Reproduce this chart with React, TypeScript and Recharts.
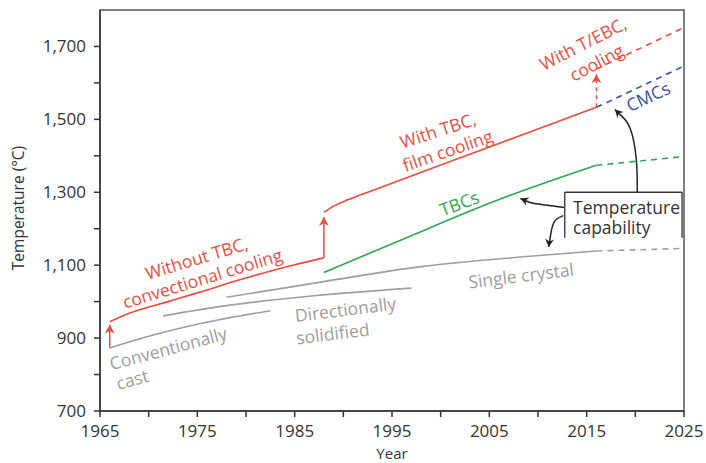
import React from 'react';
import { LineChart, Line, XAxis, YAxis, ReferenceArea, ReferenceLine, ReferenceDot } from 'recharts';

// axis ticks
const xTicks = [1965, 1970, 1975, 1980, 1985, 1990, 1995, 2000, 2005, 2010, 2015, 2020, 2025];
const yTicks = [700, 800, 900, 1000, 1100, 1200, 1300, 1400, 1500, 1600, 1700];

// blade temperature, without TBC (convectional cooling)
const convYears = [1966, 1968, 1972, 1975, 1979, 1982, 1985, 1988];
const convTemps = [945, 968, 1000, 1024, 1057, 1080, 1101, 1120];

// with TBC, film cooling
const filmYears = [1988, 1989, 1990.5, 1993, 2000, 2016];
const filmTemps = [1245, 1262, 1280, 1305, 1375, 1533];

// with T/EBC, cooling (projection)
const tebcYears = [2016, 2025];
const tebcTemps = [1638, 1752];

// CMCs (projection)
const cmcYears = [2016, 2025];
const cmcTemps = [1533, 1646];

// TBCs
const tbcYears = [1988, 1996, 2006, 2016];
const tbcTemps = [1080, 1170, 1280, 1374];
const tbcProjYears = [2016, 2025];
const tbcProjTemps = [1374, 1398];

// alloys
const singleYears = [1978, 1988, 1998, 2008.5, 2016];
const singleTemps = [1012, 1055, 1096, 1123, 1139];
const singleProjYears = [2016, 2025];
const singleProjTemps = [1139, 1146];

const dsYears = [1971.5, 1978, 1987, 1997];
const dsTemps = [961, 989, 1016, 1037];

const castYears = [1966, 1970, 1975, 1982.5];
const castTemps = [873, 905, 938, 975];

// step-up arrows
const step1Years = [1966, 1966];
const step1Temps = [873, 937];
const step2Years = [1988, 1988];
const step2Temps = [1120, 1232];
const step3Years = [2016, 2016];
const step3Temps = [1533, 1624];

// "Temperature capability" pointers
const ptrTbcYears = [2012.7, 2010.8, 2009.3, 2008.2];
const ptrTbcTemps = [1258, 1265, 1271, 1283];
const ptrSxYears = [2012.6, 2011.7, 2011.3, 2011.1];
const ptrSxTemps = [1236, 1220, 1184, 1150];
const ptrCmcYears = [2020.2, 2020.1, 2019.5, 2018.6, 2017.9];
const ptrCmcTemps = [1300, 1390, 1473, 1509, 1527];

const FONT = '"Open Sans", sans-serif';
const RED = '#EE4B3E';
const GREEN = '#2EA750';
const BLUE = '#3452A4';
const GRAY = '#9E9E9E';
const GRAY_TEXT = '#9C9C9C';
const INK = '#333333';

const toRows = (years: number[], temps: number[]) => years.map((year, i) => ({ year, temp: temps[i] }));

const arrowHead = (color: string, angle: number, size: number, lastIndex: number) => (props: any) => {
  const { cx, cy, index } = props;
  if (index !== lastIndex || cx == null) return <g key={`n${index}`} />;
  const s = size;
  return (
    <path
      key={`a${index}`}
      d={`M0,0 L${-s},${-s * 0.55} L${-s * 0.7},0 L${-s},${s * 0.55} Z`}
      transform={`translate(${cx},${cy}) rotate(${angle})`}
      fill={color}
    />
  );
};

type Note = { x: number; y: number; text: string; angle: number; color: string; anchor?: string };

const notes: Note[] = [
  { x: 1974.9, y: 1120, text: 'Without TBC,', angle: -17, color: RED },
  { x: 1975.5, y: 1065, text: 'convectional cooling', angle: -17, color: RED },
  { x: 1999.7, y: 1471, text: 'With TBC,', angle: -18, color: RED },
  { x: 2000.7, y: 1416, text: 'film cooling', angle: -19, color: RED },
  { x: 2014.6, y: 1709, text: 'With T/EBC,', angle: -27, color: RED },
  { x: 2016, y: 1657, text: 'cooling', angle: -28, color: RED },
  { x: 2021.3, y: 1564, text: 'CMCs', angle: -25, color: BLUE },
  { x: 2001.9, y: 1271, text: 'TBCs', angle: -21, color: GREEN },
  { x: 2013.6, y: 1260, text: 'Temperature', angle: 0, color: INK, anchor: 'start' },
  { x: 2013.6, y: 1205, text: 'capability', angle: 0, color: INK, anchor: 'start' },
  { x: 2008.25, y: 1073, text: 'Single crystal', angle: -7, color: GRAY_TEXT },
  { x: 1990.2, y: 980, text: 'Directionally', angle: -7, color: GRAY_TEXT },
  { x: 1988.9, y: 914, text: 'solidified', angle: -7, color: GRAY_TEXT },
  { x: 1972.0, y: 873, text: 'Conventionally', angle: -15, color: GRAY_TEXT },
  { x: 1968.3, y: 788, text: 'cast', angle: -15, color: GRAY_TEXT },
];

const noteShape = (n: Note) => (p: any) => (
  <text
    x={p.cx}
    y={p.cy}
    transform={`rotate(${n.angle} ${p.cx} ${p.cy})`}
    textAnchor={n.anchor || 'middle'}
    dominantBaseline="central"
    fill={n.color}
    fontSize={17.5}
    fontFamily={FONT}
  >
    {n.text}
  </text>
);

const App: React.FC = () => {
  const series = [
    { key: 'conv', rows: toRows(convYears, convTemps), color: RED, dash: undefined },
    { key: 'film', rows: toRows(filmYears, filmTemps), color: RED, dash: undefined },
    { key: 'tebc', rows: toRows(tebcYears, tebcTemps), color: RED, dash: '6 5' },
    { key: 'cmc', rows: toRows(cmcYears, cmcTemps), color: BLUE, dash: '6 5' },
    { key: 'tbc', rows: toRows(tbcYears, tbcTemps), color: GREEN, dash: undefined },
    { key: 'tbcp', rows: toRows(tbcProjYears, tbcProjTemps), color: GREEN, dash: '6 5' },
    { key: 'sx', rows: toRows(singleYears, singleTemps), color: GRAY, dash: undefined },
    { key: 'sxp', rows: toRows(singleProjYears, singleProjTemps), color: GRAY, dash: '6 5' },
    { key: 'ds', rows: toRows(dsYears, dsTemps), color: GRAY, dash: undefined },
    { key: 'cast', rows: toRows(castYears, castTemps), color: GRAY, dash: undefined },
  ];

  const arrows = [
    { key: 's1', rows: toRows(step1Years, step1Temps), color: RED, dash: undefined, angle: -90, size: 9, curve: 'linear' },
    { key: 's2', rows: toRows(step2Years, step2Temps), color: RED, dash: undefined, angle: -90, size: 9, curve: 'linear' },
    { key: 's3', rows: toRows(step3Years, step3Temps), color: RED, dash: '4 4', angle: -90, size: 9, curve: 'linear' },
    { key: 'p1', rows: toRows(ptrTbcYears, ptrTbcTemps), color: '#222', dash: undefined, angle: -158, size: 8, curve: 'natural' },
    { key: 'p2', rows: toRows(ptrSxYears, ptrSxTemps), color: '#222', dash: undefined, angle: 96, size: 8, curve: 'natural' },
    { key: 'p3', rows: toRows(ptrCmcYears, ptrCmcTemps), color: '#222', dash: undefined, angle: -135, size: 8, curve: 'natural' },
  ];

  return (
    <div style={{ position: 'absolute', left: 0, top: 0, background: '#fff' }}>
      <LineChart width={706} height={463} margin={{ top: 10, right: 22, left: 0, bottom: 0 }}>
        <XAxis
          type="number"
          dataKey="year"
          domain={[1965, 2025]}
          ticks={xTicks}
          interval={0}
          allowDataOverflow
          tickFormatter={(v: number) => ((v - 1965) % 10 === 0 ? String(v) : '')}
          tick={{ fill: INK, fontSize: 17, fontFamily: FONT }}
          tickSize={6}
          tickMargin={8}
          axisLine={{ stroke: INK, strokeWidth: 1.5 }}
          tickLine={{ stroke: INK, strokeWidth: 1.5 }}
          height={52}
          label={{
            content: () => (
              <text x={392} y={458.5} textAnchor="middle" fill={INK} fontSize={15} fontFamily={FONT}>
                Year
              </text>
            ),
          }}
        />
        <YAxis
          type="number"
          domain={[700, 1800]}
          ticks={yTicks}
          interval={0}
          allowDataOverflow
          tickFormatter={(v: number) => (v % 200 === 0 ? '' : v.toLocaleString('en-US'))}
          tick={{ fill: INK, fontSize: 17, fontFamily: FONT }}
          tickSize={6}
          tickMargin={8}
          axisLine={{ stroke: INK, strokeWidth: 1.5 }}
          tickLine={{ stroke: INK, strokeWidth: 1.5 }}
          width={100}
          label={{
            content: () => (
              <text
                x={18}
                y={208}
                transform="rotate(-90 18 208)"
                textAnchor="middle"
                dominantBaseline="central"
                fill={INK}
                fontSize={15.5}
                fontFamily={FONT}
              >
                Temperature (°C)
              </text>
            ),
          }}
        />
        <ReferenceArea x1={1965} x2={2025} y1={700} y2={1800} fill="none" stroke="#555" strokeWidth={1.5} />

        {/* Temperature capability box */}
        <ReferenceLine segment={[{ x: 2012.75, y: 1300 }, { x: 2024.8, y: 1300 }]} stroke={INK} strokeWidth={1.3} />
        <ReferenceLine segment={[{ x: 2012.75, y: 1300 }, { x: 2012.75, y: 1175 }]} stroke={INK} strokeWidth={1.3} />
        <ReferenceLine segment={[{ x: 2024.8, y: 1300 }, { x: 2024.8, y: 1175 }]} stroke={INK} strokeWidth={1.3} />

        {series.map((s) => (
          <Line
            key={s.key}
            data={s.rows}
            dataKey="temp"
            type="monotone"
            stroke={s.color}
            strokeWidth={1.6}
            strokeDasharray={s.dash}
            dot={false}
            activeDot={false}
            isAnimationActive={false}
          />
        ))}

        {arrows.map((a) => (
          <Line
            key={a.key}
            data={a.rows}
            dataKey="temp"
            type={a.curve as any}
            stroke={a.color}
            strokeWidth={1.5}
            strokeDasharray={a.dash}
            dot={arrowHead(a.color, a.angle, a.size, a.rows.length - 1)}
            activeDot={false}
            isAnimationActive={false}
          />
        ))}

        {notes.map((n, i) => (
          <ReferenceDot key={`note${i}`} x={n.x} y={n.y} r={0} shape={noteShape(n)} />
        ))}
      </LineChart>
    </div>
  );
};

export default App;
